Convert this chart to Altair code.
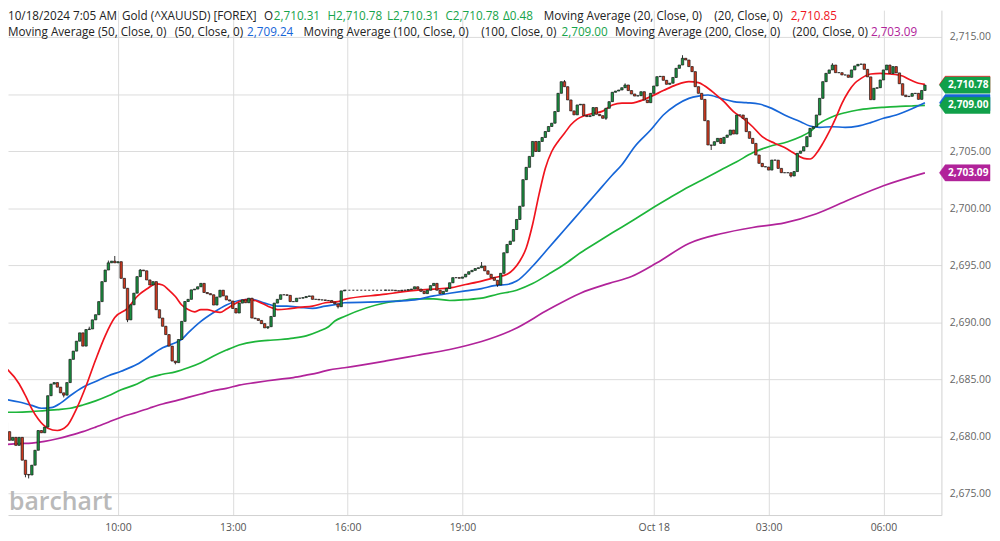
import altair as alt
import pandas as pd

FONT = "Open Sans"

# ---------------- candle data (5-minute bars, bar index counted from 07:00 Oct 17) ----------------
BAR_MIN = 5
S1_START = 0
S1_OPEN = 2681.6
S1_CLOSE = [
    2681.2, 2680.4, 2679.64, 2679.9, 2679.2, 2679.9, 2677.9, 2676.65, 2676.6, 2677.46,
    2678.77, 2680.5, 2680.3, 2680.8, 2683.55, 2684.57, 2684.7, 2684.3, 2683.8, 2683.6,
    2684.7, 2686.74, 2687.46, 2688.33, 2689.06, 2687.9, 2689.35, 2689.4, 2690.2, 2690.65,
    2691.8, 2693.55, 2694.57, 2695.2, 2695.35, 2695.2, 2695.3, 2693.84, 2692.97, 2690.2,
    2691.52, 2692.54, 2693.99, 2694.57, 2694.5, 2693.7, 2693.26, 2693.55, 2691.09, 2690.36,
    2689.64, 2688.91, 2687.9, 2686.59, 2686.45, 2688.48, 2690.07, 2691.81, 2692.0, 2692.83,
    2692.9, 2693.1, 2693.4, 2692.6, 2692.5, 2692.4, 2691.5, 2692.2, 2692.8, 2692.3,
    2691.95, 2691.85, 2691.2, 2690.8, 2691.67, 2691.95, 2691.7, 2692.1, 2690.36, 2690.3,
    2690.15, 2689.87, 2689.5, 2689.6, 2690.5, 2691.67, 2692.0, 2692.4, 2692.4, 2692.35,
    2691.8, 2691.8, 2692.1, 2692.1, 2692.15, 2692.25, 2692.3, 2692.0, 2692.0, 2691.95,
    2691.95, 2691.9, 2691.9, 2691.75, 2691.6, 2691.35, 2692.74, 2692.8,
]
S2_START = 120
S2_OPEN = 2692.8
S2_CLOSE = [
    2692.8, 2692.8, 2692.8, 2692.75, 2692.75, 2692.8, 2692.8, 2692.85, 2692.9, 2693.1,
    2692.9, 2692.7, 2692.5, 2692.8, 2693.2, 2693.4, 2692.8, 2692.5, 2692.7, 2692.95,
    2693.45, 2693.9, 2693.9, 2693.85, 2693.96, 2694.2, 2694.42, 2694.54, 2694.7, 2694.77,
    2694.92, 2694.5, 2694.2, 2693.9, 2693.67, 2693.26, 2694.28, 2696.08, 2696.81, 2697.1,
    2698.12, 2699.0, 2700.16, 2702.49, 2703.57, 2704.53, 2705.84, 2704.96, 2705.84, 2706.19,
    2706.71, 2707.15, 2707.44, 2708.46, 2710.06, 2711.08, 2710.64, 2709.48, 2708.52, 2708.17,
    2709.04, 2709.1, 2708.11, 2708.02, 2708.1, 2708.81, 2708.22, 2708.1, 2707.87, 2708.75,
    2709.33, 2710.15, 2710.26, 2710.35, 2710.55, 2710.79, 2710.3, 2710.0, 2709.82, 2709.85,
    2710.2, 2709.47, 2709.24, 2710.06, 2710.7, 2711.52, 2711.55, 2711.2, 2710.85, 2710.95,
    2711.45, 2712.25, 2712.54, 2713.13, 2712.98, 2712.4, 2711.96, 2710.64, 2710.06, 2709.53,
    2707.66, 2705.53, 2705.5, 2705.82, 2706.11, 2705.67, 2706.2, 2706.4, 2706.84, 2706.49,
    2708.16, 2708.16, 2707.87, 2706.7, 2706.11, 2705.67, 2704.65, 2703.92, 2703.63, 2703.6,
    2703.33, 2704.21, 2704.2, 2703.48, 2703.1, 2703.1, 2703.1, 2702.81, 2703.2, 2704.8,
    2705.0, 2705.38, 2706.26, 2706.99, 2707.13, 2708.16, 2709.62, 2711.08, 2711.81, 2712.11,
    2712.54, 2711.87, 2711.87, 2711.67, 2711.67, 2711.46, 2712.11, 2712.46, 2712.6, 2712.63,
    2712.16, 2711.5, 2709.5, 2710.5, 2710.55, 2711.23, 2712.11, 2712.54, 2711.8, 2712.4,
    2711.85, 2710.9, 2709.9, 2709.77, 2709.8, 2710.05, 2710.06, 2709.53, 2710.31, 2710.78,
]
# visible wick extremes (bar index -> price)
HIGH_MARKS = {27: 2689.6, 33: 2695.4, 35: 2695.8, 43: 2694.65, 150: 2695.27, 176: 2711.22,
              195: 2710.93, 213: 2713.4, 260: 2712.7}
LOW_MARKS = {7: 2676.4, 8: 2676.3, 19: 2683.4, 39: 2690.0, 54: 2686.3, 83: 2689.4, 105: 2691.2,
             155: 2693.1, 189: 2707.73, 222: 2705.09, 247: 2702.69}

# ---------------- moving averages (bar index, value) ----------------
MA20_BARS = [0, 5, 7, 9, 11, 14, 17, 20, 23, 26, 29, 32, 35, 39, 42, 45, 48, 50, 52, 54, 56, 58, 60, 62, 64, 66, 68, 70,
             72, 74, 77, 80, 83, 86, 89, 93, 97, 101, 105, 107, 120, 125, 130, 135, 140, 145, 150, 154, 158, 160, 162,
             164, 166, 168, 170, 172, 174, 176, 178, 180, 182, 185, 188, 191, 194, 197, 199, 203, 207, 211, 215, 218,
             220, 223, 226, 229, 232, 235, 238, 242, 245, 248, 251, 253, 255, 257, 259, 261, 263, 265, 267, 269, 272,
             275, 278, 282, 284, 287, 289]
MA20_VALS = [2686.2, 2684.6, 2683.55, 2682.4, 2681.5, 2680.7, 2680.5, 2680.9, 2682.4, 2684.4, 2686.7, 2688.8, 2690.4,
             2691.2, 2692.25, 2692.9, 2693.35, 2693.26, 2692.8, 2692.25, 2691.5, 2691.1, 2690.9, 2691.1, 2691.1,
             2690.95, 2690.85, 2691.15, 2691.5, 2691.8, 2692.0, 2691.8, 2691.4, 2691.1, 2691.15, 2691.3, 2691.4,
             2691.7, 2691.8, 2692.0, 2692.45, 2692.65, 2692.8, 2692.9, 2693.0, 2693.3, 2693.6, 2693.9, 2694.2,
             2694.63, 2695.36, 2696.5, 2698.56, 2701.18, 2703.5, 2704.96, 2705.84, 2706.56, 2707.3, 2707.8, 2708.08,
             2708.3, 2708.5, 2709.04, 2709.2, 2709.2, 2709.33, 2709.77, 2710.3, 2710.8, 2711.08, 2711.0, 2710.7,
             2710.06, 2709.33, 2708.45, 2707.87, 2707.13, 2706.26, 2705.67, 2705.3, 2704.8, 2704.36, 2704.3, 2704.8,
             2705.67, 2706.7, 2707.87, 2709.18, 2710.2, 2710.94, 2711.37, 2711.75, 2711.8, 2711.75, 2711.58, 2711.29,
             2710.94, 2710.85]
MA50_BARS = [0, 5, 9, 12, 15, 18, 21, 25, 29, 33, 37, 42, 46, 50, 54, 56, 58, 62, 66, 70, 74, 78, 82, 86, 89, 93, 97,
             101, 105, 107, 120, 125, 130, 135, 140, 145, 150, 154, 158, 161, 166, 171, 176, 181, 186, 191, 194, 198,
             203, 207, 211, 215, 218, 221, 225, 229, 233, 237, 241, 245, 250, 253, 256, 260, 264, 268, 272, 276, 280,
             284, 289]
MA50_VALS = [2683.26, 2683.0, 2682.7, 2682.45, 2682.5, 2682.9, 2683.55, 2684.3, 2684.8, 2685.3, 2685.7, 2686.3,
             2687.03, 2687.75, 2688.2, 2688.5, 2689.06, 2690.07, 2690.85, 2691.5, 2691.9, 2692.0, 2691.67, 2691.4,
             2691.4, 2691.3, 2691.2, 2691.4, 2691.57, 2691.7, 2691.8, 2691.86, 2692.0, 2692.3, 2692.53, 2692.74,
             2692.94, 2693.2, 2693.3, 2693.6, 2694.9, 2696.5, 2698.1, 2699.7, 2701.3, 2702.9, 2703.8, 2705.38,
             2706.84, 2708.16, 2709.04, 2709.62, 2709.82, 2709.91, 2709.62, 2709.33, 2709.24, 2709.12, 2708.74,
             2708.16, 2707.57, 2707.19, 2707.08, 2707.13, 2707.08, 2707.19, 2707.49, 2707.87, 2708.16, 2708.6,
             2709.24]
MA100_BARS = [0, 4, 9, 13, 17, 21, 25, 29, 33, 37, 42, 46, 50, 54, 58, 62, 66, 70, 74, 79, 83, 87, 91, 95, 99, 102,
              104, 107, 120, 125, 130, 135, 140, 145, 150, 155, 161, 166, 171, 176, 181, 186, 191, 197, 203, 209, 215,
              220, 225, 230, 235, 240, 246, 250, 253, 256, 260, 264, 268, 272, 276, 280, 285, 289]
MA100_VALS = [2682.1, 2682.1, 2682.16, 2682.25, 2682.33, 2682.45, 2682.74, 2683.1, 2683.55, 2684.07, 2684.57,
              2685.14, 2685.43, 2685.64, 2686.0, 2686.45, 2687.03, 2687.55, 2688.0, 2688.3, 2688.4, 2688.48, 2688.6,
              2688.8, 2689.2, 2689.6, 2690.1, 2690.5, 2691.7, 2691.9, 2692.04, 2692.04, 2691.9, 2691.98, 2692.1,
              2692.45, 2692.8, 2693.38, 2694.2, 2695.07, 2696.08, 2696.96, 2697.83, 2698.85, 2699.9, 2700.9, 2701.87,
              2702.6, 2703.33, 2704.06, 2704.85, 2705.38, 2705.82, 2706.26, 2706.7, 2707.43, 2708.01, 2708.36,
              2708.6, 2708.74, 2708.83, 2708.9, 2708.95, 2709.0]
MA200_BARS = [0, 5, 9, 13, 17, 21, 25, 29, 33, 37, 42, 46, 50, 54, 58, 62, 66, 70, 74, 79, 83, 87, 91, 95, 99, 102,
              107, 120, 130, 140, 150, 160, 171, 181, 190, 197, 205, 215, 225, 235, 245, 255, 265, 276, 289]
MA200_VALS = [2679.26, 2679.35, 2679.4, 2679.55, 2679.78, 2680.07, 2680.4, 2680.8, 2681.23, 2681.67, 2682.1,
              2682.48, 2682.83, 2683.1, 2683.4, 2683.7, 2684.0, 2684.2, 2684.48, 2684.7, 2684.86, 2685.0, 2685.14,
              2685.35, 2685.58, 2685.8, 2686.0, 2686.6, 2687.1, 2687.6, 2688.3, 2689.35, 2691.1, 2692.54, 2693.4,
              2694.0, 2695.2, 2696.9, 2697.75, 2698.3, 2698.7, 2699.5, 2700.7, 2701.96, 2703.09]

# ---------------- axes ----------------
TICK_MIN = [180, 360, 540, 720, 1020, 1200, 1380]
TICK_LABELS = ["10:00", "13:00", "16:00", "19:00", "Oct 18", "03:00", "06:00"]
Y_TICKS = [2675, 2680, 2685, 2690, 2695, 2700, 2705, 2710, 2715]
Y_HIDDEN_LABEL = 2710          # covered by the price tags in the original
X_DOMAIN = [15.4, 1463.1]
Y_DOMAIN = [2673.09, 2717.35]

RED = "#f0141e"
BLUE = "#1666d8"
GREEN_MA = "#1db53a"
MAGENTA = "#b1239a"
PRICE_GREEN = "#11a04a"
TEXT_GREEN = "#16a34a"
CANDLE_UP = "#1a9140"
CANDLE_DN = "#d23a1f"

# ---------------- build tables ----------------
rows = []
for start, first_open, closes in [(S1_START, S1_OPEN, S1_CLOSE), (S2_START, S2_OPEN, S2_CLOSE)]:
    prev = first_open
    for k, c in enumerate(closes):
        b = start + k
        o = prev
        hi = max(o, c, HIGH_MARKS.get(b, c))
        lo = min(o, c, LOW_MARKS.get(b, c))
        rows.append({"t": b * BAR_MIN, "open": o, "close": c, "high": hi, "low": lo,
                     "dir": "up" if c > o else ("down" if c < o else "flat")})
        prev = c
candles = pd.DataFrame(rows)

gap = pd.DataFrame({"t": [(S1_START + len(S1_CLOSE) - 1) * BAR_MIN, S2_START * BAR_MIN],
                    "v": [S1_CLOSE[-1], S2_OPEN]})

ma_frames = []
for name, bars, vals in [("MA200", MA200_BARS, MA200_VALS), ("MA100", MA100_BARS, MA100_VALS),
                         ("MA50", MA50_BARS, MA50_VALS), ("MA20", MA20_BARS, MA20_VALS)]:
    ma_frames.append(pd.DataFrame({"t": [b * BAR_MIN for b in bars], "v": vals, "s": name}))
ma = pd.concat(ma_frames, ignore_index=True)

x_label_expr = "".join(f"datum.value == {m} ? '{l}' : " for m, l in zip(TICK_MIN, TICK_LABELS)) + "''"
y_label_expr = f"datum.value == {Y_HIDDEN_LABEL} ? '' : format(datum.value, ',.2f')"

XSCALE = alt.Scale(domain=X_DOMAIN, nice=False, zero=False)
YSCALE = alt.Scale(domain=Y_DOMAIN, nice=False, zero=False)
XAXIS = alt.Axis(values=TICK_MIN, labelExpr=x_label_expr, grid=True, gridColor="#dcdcdc", gridWidth=1,
                 ticks=False, domain=True, domainColor="#d0d0d0", labelColor="#555555", labelFont=FONT,
                 labelFontSize=10.5, labelPadding=8, labelOverlap=False, labelFlush=False, title=None)
YAXIS = alt.Axis(orient="right", values=Y_TICKS, labelExpr=y_label_expr, grid=True, gridColor="#dcdcdc",
                 gridWidth=1, ticks=False, domain=True, domainColor="#d0d0d0", labelColor="#666666",
                 labelFont=FONT, labelFontSize=10.5, labelPadding=8, labelOverlap=False, title=None)


def X(field):
    return alt.X(field, type="quantitative", scale=XSCALE, axis=XAXIS)


def Y(field):
    return alt.Y(field, type="quantitative", scale=YSCALE, axis=YAXIS)


layers = []

ma_lines = alt.Chart(ma).mark_line(interpolate="monotone", strokeWidth=1.7, clip=True).encode(
    x=X("t"), y=Y("v"),
    color=alt.Color("s:N", scale=alt.Scale(domain=["MA200", "MA100", "MA50", "MA20"],
                                           range=[MAGENTA, GREEN_MA, BLUE, RED]), legend=None),
    order=alt.Order("t:Q"),
    detail="s:N",
)
layers.append(ma_lines)

gap_line = alt.Chart(gap).mark_line(color="#222222", strokeWidth=1, strokeDash=[2, 2], clip=True).encode(
    x=X("t"), y=Y("v"))
layers.append(gap_line)

wicks = alt.Chart(candles).mark_rule(color="#1a1a1a", strokeWidth=0.9, clip=True).encode(
    x=X("t"), y=Y("low"), y2="high")
layers.append(wicks)

bodies = alt.Chart(candles).mark_bar(width=2.4, stroke="#1a1a1a", strokeWidth=0.7, clip=True).encode(
    x=X("t"), y=Y("open"), y2="close",
    fill=alt.Fill("dir:N", scale=alt.Scale(domain=["up", "down", "flat"],
                                           range=[CANDLE_UP, CANDLE_DN, "#1a1a1a"]), legend=None))
layers.append(bodies)

# watermark
layers.append(alt.Chart(pd.DataFrame({"s": ["barchart"]})).mark_text(
    align="left", baseline="alphabetic", font=FONT, fontSize=25, fontWeight=600, color="#b9b9b9").encode(
    x=alt.value(1), y=alt.value(504), text="s:N"))

# header legend: (text, colour, x, y) in chart pixels
L1, L2 = 10, 26
HEADER = [
    ("10/18/2024 7:05 AM", "#222222", 0, L1),
    ("Gold (^XAUUSD) [FOREX]", "#222222", 115, L1),
    ("O", "#222222", 258, L1),
    ("2,710.31", TEXT_GREEN, 268, L1),
    ("H2,710.78", TEXT_GREEN, 322, L1),
    ("L2,710.31", TEXT_GREEN, 382, L1),
    ("C2,710.78", TEXT_GREEN, 441, L1),
    ("Δ0.48", TEXT_GREEN, 499, L1),
    ("Moving Average (20, Close, 0)", "#222222", 540, L1),
    ("(20, Close, 0)", "#222222", 712, L1),
    ("2,710.85", RED, 789, L1),
    ("Moving Average (50, Close, 0)", "#222222", 0, L2),
    ("(50, Close, 0)", "#222222", 168, L2),
    ("2,709.24", BLUE, 241, L2),
    ("Moving Average (100, Close, 0)", "#222222", 298, L2),
    ("(100, Close, 0)", "#222222", 477, L2),
    ("2,709.00", TEXT_GREEN, 558, L2),
    ("Moving Average (200, Close, 0)", "#222222", 612, L2),
    ("(200, Close, 0)", "#222222", 791, L2),
    ("2,703.09", MAGENTA, 870, L2),
]
for txt, col, px, py in HEADER:
    layers.append(alt.Chart(pd.DataFrame({"s": [txt]})).mark_text(
        align="left", baseline="alphabetic", font=FONT, fontSize=11.8, color=col).encode(
        x=alt.value(px), y=alt.value(py), text="s:N"))

# price tags on the right axis (the MA50 and MA20 tags sit behind the others, so only their shape shows)
TAG_VALUES = [2703.09, 2709.24, 2709.00, 2710.85, 2710.78]
TAG_COLORS = [MAGENTA, BLUE, PRICE_GREEN, RED, PRICE_GREEN]
TAG_SHOWN = [True, False, True, False, True]
TAG_PATH = "M-1,0L-0.77,-0.32L1,-0.32L1,0.32L-0.77,0.32Z"
for v, col, shown in zip(TAG_VALUES, TAG_COLORS, TAG_SHOWN):
    d = pd.DataFrame({"v": [v], "label": [f"{v:,.2f}"]})
    layers.append(alt.Chart(d).mark_point(shape=TAG_PATH, filled=True, fill=col, stroke=col, strokeWidth=0.5,
                                          opacity=1, size=2601).encode(x=alt.value(964.5), y=Y("v")))
    if shown:
        layers.append(alt.Chart(d).mark_text(align="center", baseline="middle", font=FONT, fontSize=10.2,
                                             fontWeight="bold", color="white").encode(
            x=alt.value(968), y=Y("v"), text="label:N"))

chart = alt.layer(*layers).properties(
    width=941, height=509,
    autosize=alt.AutoSizeParams(type="none"),
    padding={"left": 0, "top": 0, "right": 51, "bottom": 25},
).configure_view(stroke=None)

chart.save("out.html", embed_options={"renderer": "svg", "actions": False})
